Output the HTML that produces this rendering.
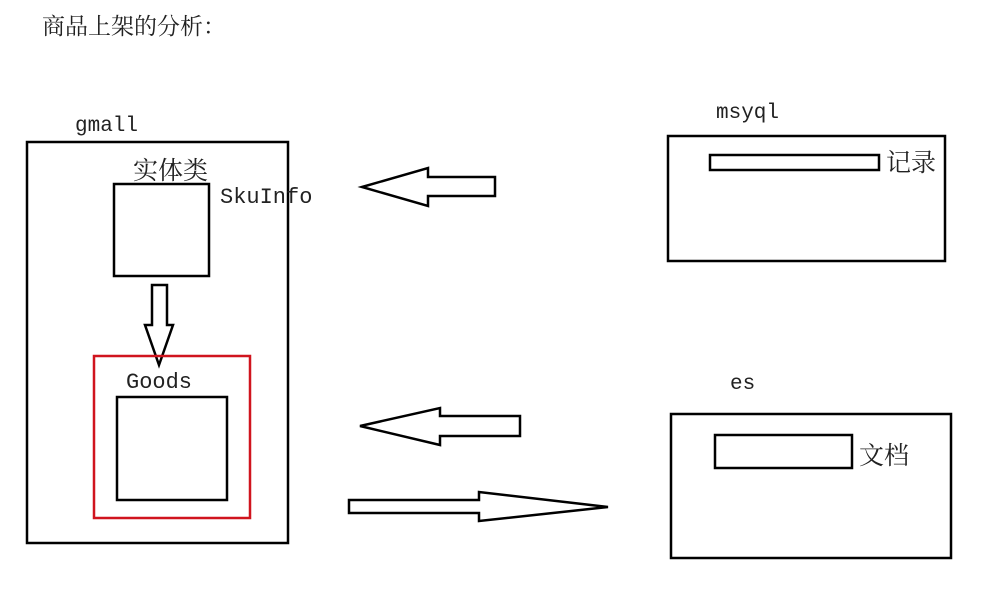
<!DOCTYPE html>
<html><head><meta charset="utf-8"><style>
body{margin:0;background:#fff;width:993px;height:606px;overflow:hidden}
svg text{font-family:"Liberation Mono","Noto Serif CJK SC",serif;fill:#222}
</style></head><body>
<svg width="993" height="606">
<text x="42" y="34" font-size="23" font-family="'Noto Serif CJK SC',serif">商品上架的分析：</text>
<text x="75" y="131" font-size="21">gmall</text>
<rect x="27" y="142" width="261" height="401" fill="none" stroke="#000" stroke-width="2.5"/>
<text x="133" y="179" font-size="25" font-family="'Noto Serif CJK SC',serif">实体类</text>
<rect x="114" y="184" width="95" height="92" fill="none" stroke="#000" stroke-width="2.5"/>
<text x="220" y="203" font-size="22">SkuInfo</text>
<polygon points="152,285 167,285 167,325 173,325 159,365 145,325 152,325" fill="#fff" stroke="#000" stroke-width="2.5"/>
<rect x="94" y="356" width="156" height="162" fill="none" stroke="#d0141e" stroke-width="2.5"/>
<text x="126" y="388" font-size="22">Goods</text>
<rect x="117" y="397" width="110" height="103" fill="none" stroke="#000" stroke-width="2.5"/>
<polygon points="362,187 428,168 428,177 495,177 495,196 428,196 428,206" fill="#fff" stroke="#000" stroke-width="2.5"/>
<polygon points="360,426 440,408 440,416 520,416 520,436 440,436 440,445" fill="#fff" stroke="#000" stroke-width="2.5"/>
<polygon points="349,500 479,500 479,492 608,507 479,521 479,513 349,513" fill="#fff" stroke="#000" stroke-width="2.5"/>
<text x="716" y="118" font-size="21">msyql</text>
<rect x="668" y="136" width="277" height="125" fill="none" stroke="#000" stroke-width="2.5"/>
<rect x="710" y="155" width="169" height="15" fill="none" stroke="#000" stroke-width="2.5"/>
<text x="886" y="171" font-size="25" font-family="'Noto Serif CJK SC',serif">记录</text>
<text x="730" y="389" font-size="21">es</text>
<rect x="671" y="414" width="280" height="144" fill="none" stroke="#000" stroke-width="2.5"/>
<rect x="715" y="435" width="137" height="33" fill="none" stroke="#000" stroke-width="2.5"/>
<text x="859" y="464" font-size="25" font-family="'Noto Serif CJK SC',serif">文档</text>
</svg>
</body></html>
